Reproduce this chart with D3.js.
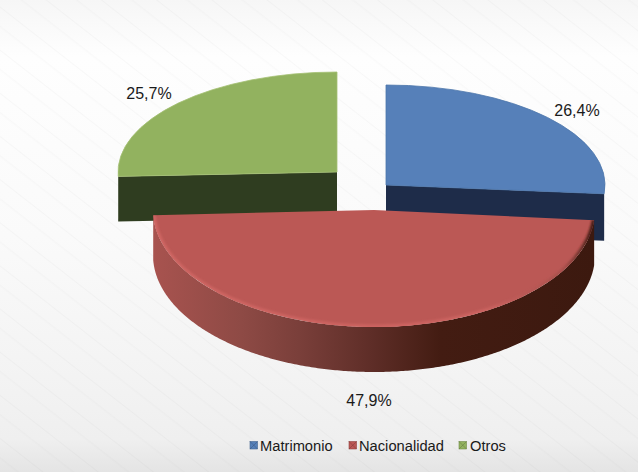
<!DOCTYPE html>
<html><head><meta charset="utf-8">
<script src="https://cdn.jsdelivr.net/npm/d3@7"></script>
<style>html,body{margin:0;padding:0;background:#fff}svg{display:block}text{font-family:"Liberation Sans",Arial,sans-serif;fill:#1a1a1a}</style>
</head><body><div id="c"></div>
<script>
const categories = ["Matrimonio","Nacionalidad","Otros"];
const values = [26.4,47.9,25.7];
const labels = ["26,4%","47,9%","25,7%"];
const topColors = ["#5680b9","#bb5855","#92b25f"];
const cutColors = ["#1e2c49","#000","#2f3d20"];
// exploded slice geometry: centre, radii and wall height
const sliceCx = [386,374,337], sliceCy = [185,210,172];
const sliceRx = [219,221,219], sliceRy = [100,117,100], sliceDepth = [47,45,45];
const labelX = [577,369,149], labelY = [116,406,99];
const legendSwatchX = [250,349,459], legendTextX = [260,359,470];

const W=638,H=472;
const svg=d3.select("#c").append("svg").attr("width",W).attr("height",H);
const defs=svg.append("defs");

const bg=defs.append("linearGradient").attr("id","bg").attr("x1",0).attr("y1",0).attr("x2",0).attr("y2",1);
[[0,"#f6f6f6"],[.12,"#fefefe"],[.5,"#fafafa"],[.8,"#f3f3f3"],[.93,"#efefef"],[1,"#e4e4e4"]].forEach(s=>bg.append("stop").attr("offset",s[0]).attr("stop-color",s[1]));
const pat=defs.append("pattern").attr("id","streak").attr("patternUnits","userSpaceOnUse").attr("width",34).attr("height",34).attr("patternTransform","rotate(38)");
pat.append("rect").attr("y",5).attr("width",34).attr("height",1).attr("fill","#000").attr("opacity",.025);
pat.append("rect").attr("y",20).attr("width",34).attr("height",1.5).attr("fill","#000").attr("opacity",.015);
defs.append("filter").attr("id","blur").append("feGaussianBlur").attr("stdDeviation",1);

const wall=defs.append("linearGradient").attr("id","wall").attr("gradientUnits","userSpaceOnUse").attr("x1",153).attr("y1",0).attr("x2",595).attr("y2",0);
[[0,"#a8534f"],[.2,"#8e4a45"],[.33,"#7a3f3a"],[.49,"#5f2e28"],[.65,"#431c12"],[1,"#3c190f"]].forEach(s=>wall.append("stop").attr("offset",s[0]).attr("stop-color",s[1]));
const rim=defs.append("linearGradient").attr("id","rim").attr("gradientUnits","userSpaceOnUse").attr("x1",153).attr("y1",0).attr("x2",595).attr("y2",0);
[[0,"#cf6663"],[.75,"#cc6360"],[.93,"#a8504c"],[1,"#3c190f"]].forEach(s=>rim.append("stop").attr("offset",s[0]).attr("stop-color",s[1]));

svg.append("rect").attr("width",W).attr("height",H).attr("fill","url(#bg)");
svg.append("rect").attr("width",W).attr("height",H).attr("fill","url(#streak)");

const arcs=d3.pie().sort(null).startAngle(0).endAngle(2*Math.PI)(values);
const R=100;
const arcGen=d3.arc().innerRadius(0).outerRadius(R);
const px=i=>a=>sliceCx[i]+sliceRx[i]*Math.sin(a);
const py=i=>a=>sliceCy[i]-sliceRy[i]*Math.cos(a);
const face=(g,i)=>g.attr("transform",`translate(${sliceCx[i]},${sliceCy[i]}) scale(${sliceRx[i]/R},${sliceRy[i]/R})`);

function cutFace(i,a){ // flat wall from slice apex to its rim
  const d=sliceDepth[i];
  const pts=[[sliceCx[i],sliceCy[i]],[px(i)(a),py(i)(a)]];
  svg.append("path").attr("d",d3.area().x(p=>p[0]).y0(p=>p[1]).y1(p=>p[1]+d)(pts)).attr("fill",cutColors[i]);
}
function topFace(i,stroke){
  face(svg.append("path").attr("d",arcGen(arcs[i])).attr("fill",topColors[i])
    .attr("stroke",stroke).attr("stroke-width",.8).attr("vector-effect","non-scaling-stroke"),i);
}
// Otros
cutFace(2,arcs[2].startAngle);
topFace(2,"#a4c074");
// Matrimonio
cutFace(0,arcs[0].endAngle);
topFace(0,"#4d76ab");
// Nacionalidad
const i=1, ang=d3.range(arcs[1].startAngle,arcs[1].endAngle,.01).concat(arcs[1].endAngle);
svg.append("path").attr("d",d3.area().x(px(i)).y0(py(i)).y1(a=>py(i)(a)+sliceDepth[i])(ang)).attr("fill","url(#wall)");
topFace(1,"none");
const cp=defs.append("clipPath").attr("id","redClip");
face(cp.append("path").attr("d",arcGen(arcs[1])),1);
svg.append("path").attr("clip-path","url(#redClip)")
  .attr("d",d3.line().x(px(i)).y(py(i))(ang))
  .attr("fill","none").attr("stroke","url(#rim)").attr("stroke-width",5).attr("filter","url(#blur)");

svg.append("g").selectAll("text").data(labels).join("text")
  .attr("x",(d,k)=>labelX[k]).attr("y",(d,k)=>labelY[k]).attr("text-anchor","middle").attr("font-size",16).text(d=>d);

const lg=svg.append("g").selectAll("g").data(categories).join("g");
lg.append("rect").attr("x",(d,k)=>legendSwatchX[k]).attr("y",441.5).attr("width",7.5).attr("height",7.5)
  .attr("fill",(d,k)=>topColors[k]).attr("stroke",(d,k)=>d3.color(topColors[k]).darker(.7)).attr("stroke-width",.6);
[[0,0,7.5,7.5],[7.5,0,0,7.5]].forEach(c=>{
  lg.append("line").attr("x1",(d,k)=>legendSwatchX[k]+c[0]).attr("y1",441.5+c[1])
    .attr("x2",(d,k)=>legendSwatchX[k]+c[2]).attr("y2",441.5+c[3])
    .attr("stroke",(d,k)=>d3.color(topColors[k]).darker(1.2)).attr("stroke-width",.8).attr("opacity",.6);
});
lg.append("text").attr("x",(d,k)=>legendTextX[k]).attr("y",451).attr("font-size",14.7).text(d=>d);
</script></body></html>
